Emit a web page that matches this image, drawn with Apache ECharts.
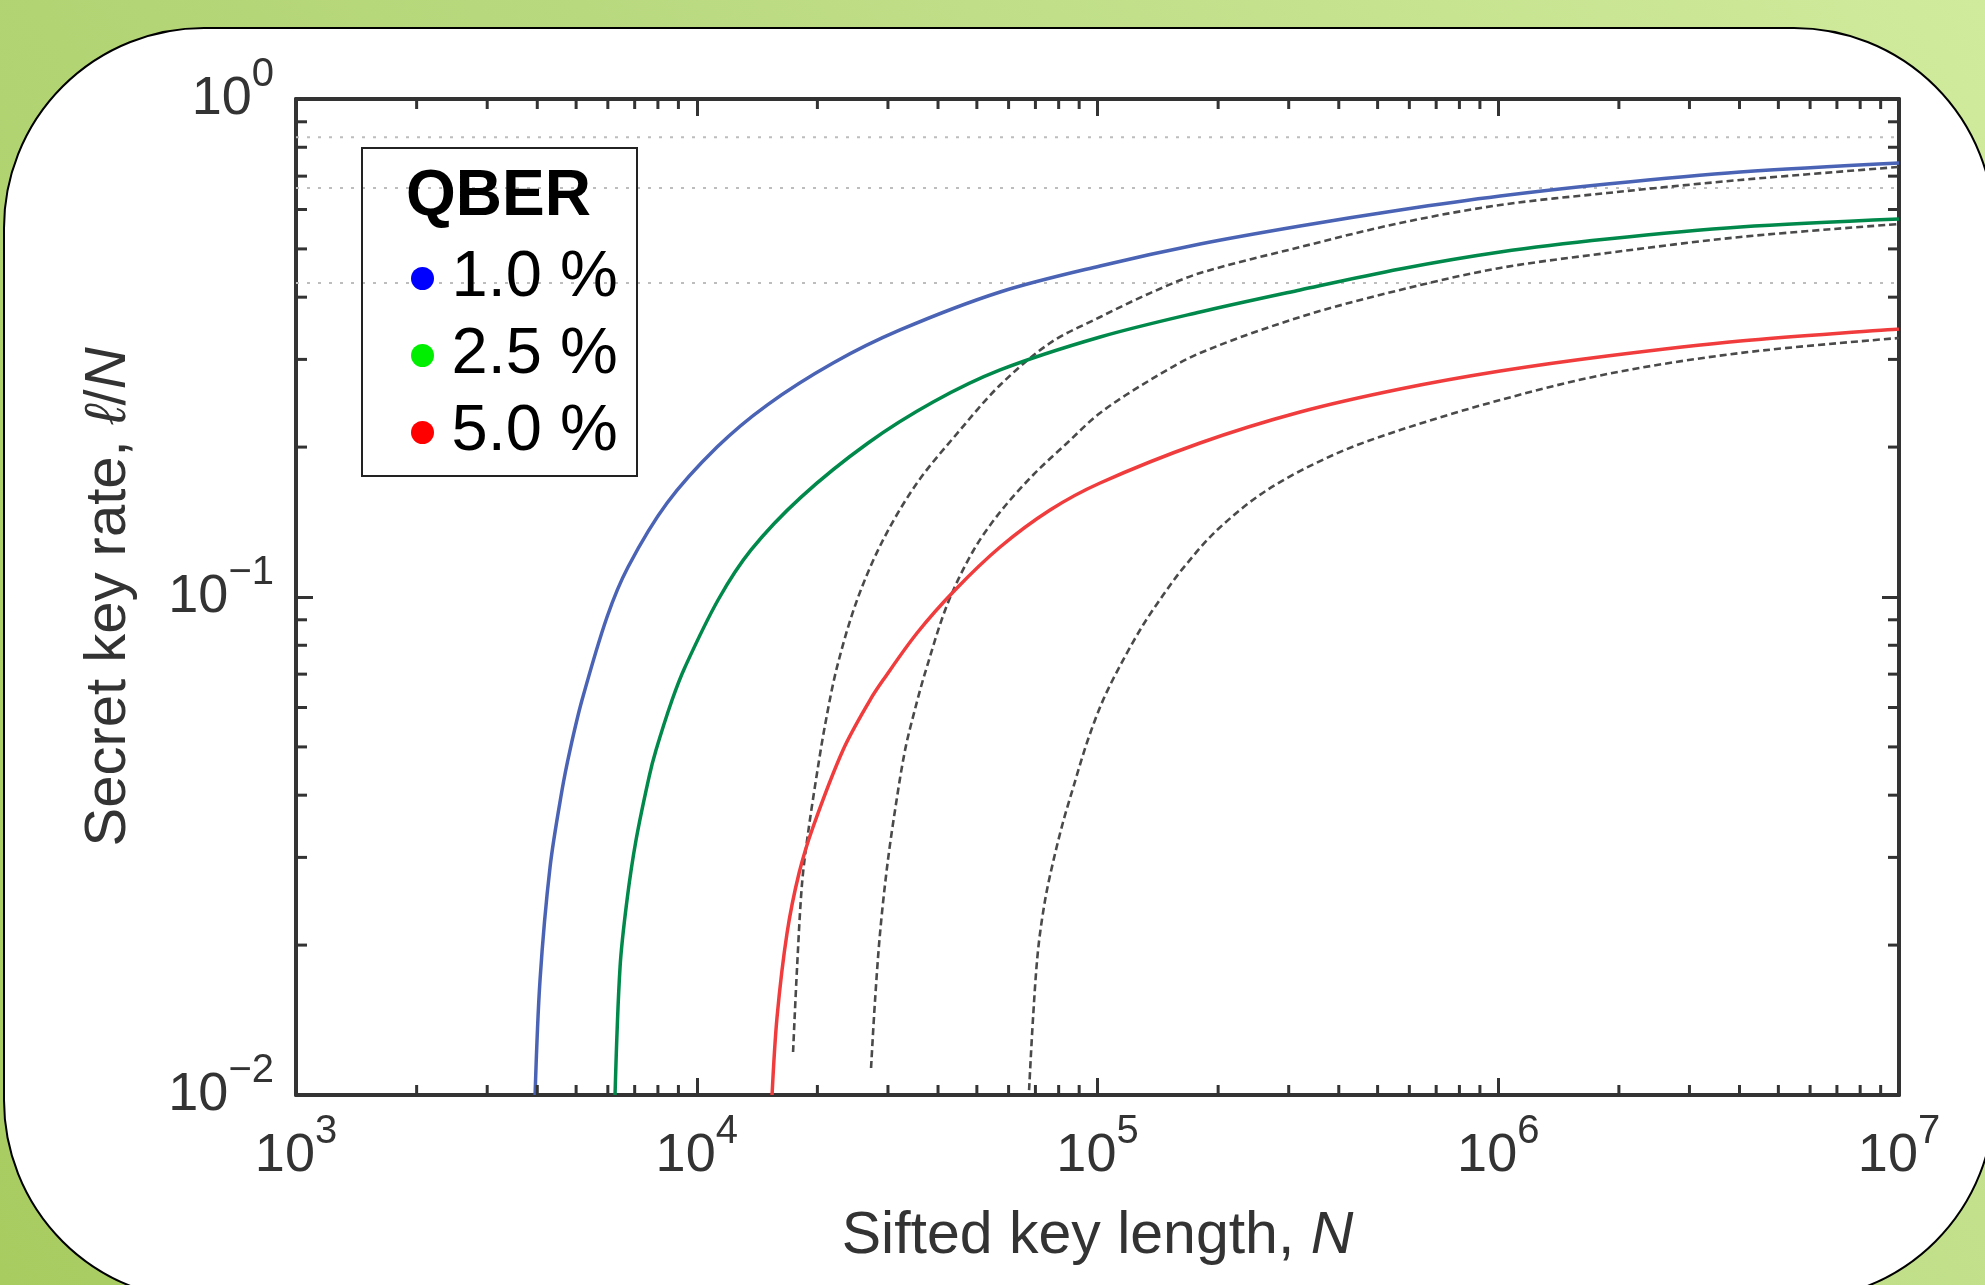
<!DOCTYPE html>
<html>
<head>
<meta charset="utf-8">
<script src="https://cdn.jsdelivr.net/npm/echarts@6/dist/echarts.min.js"></script>
<style>
html,body{margin:0;padding:0;overflow:hidden;background:#fff}
#chart{width:1985px;height:1285px}
</style>
</head>
<body>
<div id="chart"></div>
<script>
// ---------- data ----------
const xTickExps = ['3', '4', '5', '6', '7'];          // 10^3 .. 10^7
const yTickExps = ['\u22122', '\u22121', '0'];         // 10^-2 .. 10^0
const xMinorTicks = [2000,3000,4000,5000,6000,7000,8000,9000,
  20000,30000,40000,50000,60000,70000,80000,90000,
  200000,300000,400000,500000,600000,700000,800000,900000,
  2000000,3000000,4000000,5000000,6000000,7000000,8000000,9000000];
const yMinorTicks = [0.02,0.03,0.04,0.05,0.06,0.07,0.08,0.09,
  0.2,0.3,0.4,0.5,0.6,0.7,0.8,0.9];

const qberNames = ['1.0 %', '2.5 %', '5.0 %'];
const legendDotColors = ['#0000ff', '#00ee00', '#ff0000'];
const lineColors = ['#4a63b5', '#00894b', '#f03c3c'];
const asymptoticRates = [0.838, 0.663, 0.427];

// solid curves (new bound)
const q10N = [3950, 4064, 4305, 4612, 4828, 5173, 5972, 6739, 8432, 11237, 14980, 21888, 32163, 57149, 101506, 180310, 320300, 569000, 1011000, 1870000, 4016000, 10000000];
const q10R = [0.0100, 0.01702, 0.0287, 0.04096, 0.04929, 0.0621, 0.09118, 0.1149, 0.1544, 0.2000, 0.2429, 0.2950, 0.3437, 0.4097, 0.4621, 0.5115, 0.5559, 0.5986, 0.6385, 0.6750, 0.7136, 0.7441];

const q25N = [6253, 6436, 6699, 7055, 7602, 7914, 8678, 9350, 11302, 13661, 18213, 26762, 38886, 57149, 101506, 180310, 320300, 569000, 1011000, 1870000, 4016000, 10000000];
const q25R = [0.0100, 0.01807, 0.02463, 0.03251, 0.0435, 0.04929, 0.0621, 0.07237, 0.09862, 0.1243, 0.1587, 0.2038, 0.2463, 0.2857, 0.3327, 0.3735, 0.4136, 0.4557, 0.4929, 0.5234, 0.5534, 0.5742];

const q50N = [15414, 15863, 16802, 18004, 19509, 23177, 27064, 29173, 35459, 44111, 57149, 76140, 101506, 180310, 320300, 569000, 1011000, 1870000, 4016000, 10000000];
const q50R = [0.0100, 0.01434, 0.02115, 0.02791, 0.03453, 0.04929, 0.0621, 0.0681, 0.08467, 0.1033, 0.1260, 0.1495, 0.1694, 0.2038, 0.2352, 0.2616, 0.2843, 0.3048, 0.3267, 0.3452];

// dashed curves (previous bound)
const p10N = [17393, 17798, 18316, 18958, 19962, 20902, 22393, 25122, 29173, 35459, 45398, 57149, 76140, 101506, 135290, 180310, 320300, 569000, 1011000, 1870000, 4016000, 10000000];
const p10R = [0.0122, 0.01807, 0.02665, 0.03359, 0.04433, 0.05534, 0.07237, 0.09862, 0.1302, 0.1694, 0.2164, 0.2665, 0.3236, 0.3649, 0.4076, 0.4472, 0.5043, 0.5636, 0.6126, 0.6474, 0.6877, 0.7304];

const p25N = [27224, 27857, 28668, 29850, 31253, 33102, 35054, 37128, 42136, 48931, 57149, 69070, 83980, 101506, 135290, 180310, 320300, 569000, 1011000, 1870000, 4016000, 10000000];
const p25R = [0.01133, 0.01551, 0.02115, 0.0287, 0.03736, 0.04929, 0.05957, 0.07039, 0.09637, 0.1237, 0.1481, 0.1758, 0.2038, 0.2342, 0.2727, 0.309, 0.3649, 0.4136, 0.4578, 0.4906, 0.5283, 0.561];

const p50N = [67500, 69070, 71070, 74000, 77480, 82060, 86910, 94230, 103270, 115830, 129940, 145800, 163590, 198840, 265000, 387200, 569000, 1011000, 1870000, 4016000, 10000000];
const p50R = [0.01023, 0.01434, 0.01955, 0.02463, 0.02937, 0.03534, 0.04136, 0.05114, 0.0621, 0.0747, 0.08786, 0.1009, 0.1143, 0.1363, 0.164, 0.1928, 0.2164, 0.2486, 0.2804, 0.309, 0.3312];

// ---------- chart ----------
const FONT = '"Liberation Sans", Arial, Helvetica, sans-serif';
const zip = (a, b) => a.map((v, i) => [v, b[i]]);
const X_MIN = 1000, X_MAX = 1e7, Y_MIN = 0.01, Y_MAX = 1;
const SMOOTH = 0.33;

const chart = echarts.init(document.getElementById('chart'), null, {renderer: 'canvas'});

const supRich = {
  b: {fontSize: 54, lineHeight: 88, fontFamily: FONT, color: '#333'},
  s: {fontSize: 40, lineHeight: 40, verticalAlign: 'top', fontFamily: FONT, color: '#333'}
};

const axisLineStyle = {color: '#333', width: 4};
const majorTick = {show: true, inside: true, length: 17, lineStyle: {color: '#333', width: 3}};

const solidSets = [[q10N, q10R], [q25N, q25R], [q50N, q50R]];
const dashedSets = [[p10N, p10R], [p25N, p25R], [p50N, p50R]];

const series = [];
asymptoticRates.forEach((a, i) => {
  series.push({
    name: 'asymptote ' + qberNames[i], type: 'line', silent: true, symbol: 'none',
    data: [[X_MIN, a], [X_MAX, a]],
    lineStyle: {color: '#bdbdbd', width: 2, type: [3, 8]}, z: 1
  });
});
dashedSets.forEach((d, i) => {
  series.push({
    name: 'previous ' + qberNames[i], type: 'line', silent: true, symbol: 'none',
    smooth: SMOOTH,
    data: zip(d[0], d[1]),
    lineStyle: {color: '#4a4a4a', width: 2.6, type: [7, 4]}, z: 2
  });
});
solidSets.forEach((d, i) => {
  series.push({
    name: qberNames[i], type: 'line', silent: true, symbol: 'none',
    smooth: SMOOTH,
    data: zip(d[0], d[1]),
    itemStyle: {color: lineColors[i]},
    lineStyle: {color: lineColors[i], width: 3.5}, z: 3
  });
});
// minor ticks, placed by the axes' own scales
series.push({
  type: 'custom', silent: true, clip: false, z: 6,
  data: xMinorTicks.map(v => [v, Y_MIN]),
  renderItem: (params, api) => {
    const v = api.value(0);
    const b = api.coord([v, Y_MIN]);
    const t = api.coord([v, Y_MAX]);
    const st = {stroke: '#333', lineWidth: 3};
    return {type: 'group', children: [
      {type: 'line', shape: {x1: b[0], y1: b[1], x2: b[0], y2: b[1] - 10}, style: st},
      {type: 'line', shape: {x1: t[0], y1: t[1], x2: t[0], y2: t[1] + 10}, style: st}
    ]};
  }
});
series.push({
  type: 'custom', silent: true, clip: false, z: 6,
  data: yMinorTicks.map(v => [X_MIN, v]),
  renderItem: (params, api) => {
    const v = api.value(1);
    const l = api.coord([X_MIN, v]);
    const r = api.coord([X_MAX, v]);
    const st = {stroke: '#333', lineWidth: 3};
    return {type: 'group', children: [
      {type: 'line', shape: {x1: l[0], y1: l[1], x2: l[0] + 11, y2: l[1]}, style: st},
      {type: 'line', shape: {x1: r[0], y1: r[1], x2: r[0] - 11, y2: r[1]}, style: st}
    ]};
  }
});

const option = {
  animation: false,
  backgroundColor: 'transparent',
  graphic: [
    {type: 'rect', z: -20, silent: true,
      shape: {x: 0, y: 0, width: 1985, height: 1285},
      style: {fill: {type: 'linear', x: 0, y: 1, x2: 1, y2: 0,
        colorStops: [{offset: 0, color: '#a8cc60'}, {offset: 0.5, color: '#b9d97f'}, {offset: 1, color: '#d0eb9c'}]}}},
    {type: 'rect', z: -19, silent: true,
      shape: {x: 4, y: 28, width: 1990, height: 1272, r: [200, 200, 200, 200]},
      style: {fill: '#ffffff', stroke: '#000', lineWidth: 2}},
    {type: 'rect', z: 20, silent: true,
      shape: {x: 362, y: 148, width: 275, height: 328},
      style: {fill: 'transparent', stroke: '#222', lineWidth: 2}},
    {type: 'text', z: 20, silent: true, left: 406, top: 165,
      style: {text: 'QBER', font: 'bold 64px ' + FONT, fill: '#000'}}
  ],
  grid: {left: 296, top: 99, width: 1603, height: 996, outerBoundsMode: 'none', containLabel: false},
  legend: {
    show: true, orient: 'vertical', left: 411, top: 240, padding: 0, itemGap: 0,
    itemWidth: 48, itemHeight: 23, selectedMode: false, z: 20,
    textStyle: {fontSize: 65, lineHeight: 77, fontFamily: FONT, color: '#000'},
    data: qberNames.map((n, i) => ({name: n, icon: 'circle', itemStyle: {color: legendDotColors[i]}}))
  },
  xAxis: [
    {type: 'log', logBase: 10, min: X_MIN, max: X_MAX, position: 'bottom',
      axisLine: {show: true, lineStyle: axisLineStyle}, axisTick: majorTick,
      splitLine: {show: false}, minorTick: {show: false},
      axisLabel: {margin: 17, formatter: v => '{b|10}{s|' + xTickExps[Math.round(Math.log10(v)) - 3] + '}', rich: supRich},
      name: 'Sifted key length, {i|N}', nameLocation: 'middle', nameGap: 112,
      nameTextStyle: {fontSize: 59, fontFamily: FONT, color: '#333',
        rich: {i: {fontSize: 59, fontFamily: FONT, fontStyle: 'italic', color: '#333'}}}},
    {type: 'log', logBase: 10, min: X_MIN, max: X_MAX, position: 'top',
      axisLine: {show: true, lineStyle: axisLineStyle}, axisTick: majorTick,
      splitLine: {show: false}, axisLabel: {show: false}}
  ],
  yAxis: [
    {type: 'log', logBase: 10, min: Y_MIN, max: Y_MAX, position: 'left',
      axisLine: {show: true, lineStyle: axisLineStyle}, axisTick: majorTick,
      splitLine: {show: false}, minorTick: {show: false},
      axisLabel: {margin: 22, formatter: v => '{b|10}{s|' + yTickExps[Math.round(Math.log10(v)) + 2] + '}', rich: supRich},
      name: 'Secret key rate, {i|\u2113}/{i|N}', nameLocation: 'middle', nameGap: 158,
      nameTextStyle: {fontSize: 58, fontFamily: FONT, color: '#333',
        rich: {i: {fontSize: 58, fontFamily: FONT, fontStyle: 'italic', color: '#333'}}}},
    {type: 'log', logBase: 10, min: Y_MIN, max: Y_MAX, position: 'right',
      axisLine: {show: true, lineStyle: axisLineStyle}, axisTick: majorTick,
      splitLine: {show: false}, axisLabel: {show: false}}
  ],
  series: series
};
chart.setOption(option);
</script>
</body>
</html>
